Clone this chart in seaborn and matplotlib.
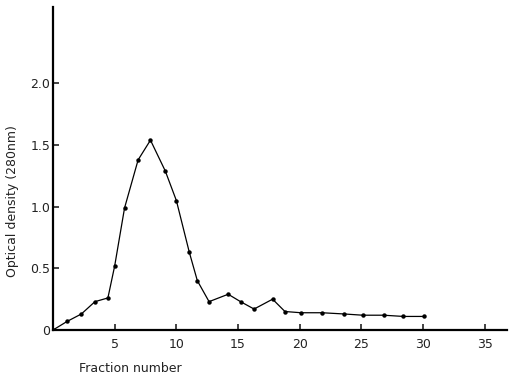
import matplotlib
matplotlib.use("Agg")
import matplotlib.pyplot as plt
import numpy as np
import pandas as pd
import seaborn as sns

# values
fraction = [0.0, 1.15, 2.3, 3.4, 4.45, 5.0, 5.8, 6.9, 7.9, 9.1, 10.0, 11.05,
            11.7, 12.65, 14.2, 15.2, 16.3, 17.8, 18.8, 20.1, 21.8, 23.6,
            25.1, 26.8, 28.4, 30.1]
density = [0.0, 0.07, 0.13, 0.23, 0.26, 0.52, 0.99, 1.38, 1.54, 1.29, 1.05,
           0.63, 0.40, 0.23, 0.29, 0.23, 0.17, 0.25, 0.15, 0.14, 0.14, 0.13,
           0.12, 0.12, 0.11, 0.11]

x_ticks = [5, 10, 15, 20, 25, 30, 35]
y_ticks = [0, 0.5, 1.0, 1.5, 2.0]
y_tick_labels = ["0", "0.5", "1.0", "1.5", "2.0"]

df = pd.DataFrame({"fraction": fraction, "density": density})

sns.set_style("ticks")
plt.rcParams["font.family"] = ["DejaVu Sans"]

fig = plt.figure(figsize=(5.1, 3.78), dpi=100)
ax = fig.add_axes([53 / 510, 48 / 378, 454 / 510, 323 / 378])

sns.lineplot(data=df, x="fraction", y="density", ax=ax, color="black",
             linewidth=0.9, marker="o", markersize=3.2, markeredgewidth=0,
             sort=False)

ax.set_xlim(0, 36.8)
ax.set_ylim(0, 2.62)
ax.set_xticks(x_ticks)
ax.set_yticks(y_ticks)
ax.set_yticklabels(y_tick_labels)
ax.tick_params(axis="both", direction="in", length=4, width=1.2,
               labelsize=9, colors="#222222")
ax.tick_params(axis="x", pad=6)
ax.tick_params(axis="y", pad=2)

for side in ["top", "right"]:
    ax.spines[side].set_visible(False)
for side in ["left", "bottom"]:
    ax.spines[side].set_linewidth(1.6)
    ax.spines[side].set_color("black")

ax.set_xlabel("Fraction number", fontsize=9, color="#222222")
ax.xaxis.set_label_coords(0.17, -0.10)
ax.set_ylabel("Optical density (280nm)", fontsize=9, color="#222222")
ax.yaxis.set_label_coords(-0.075, 0.40)

fig.savefig("out.png", dpi=100)
